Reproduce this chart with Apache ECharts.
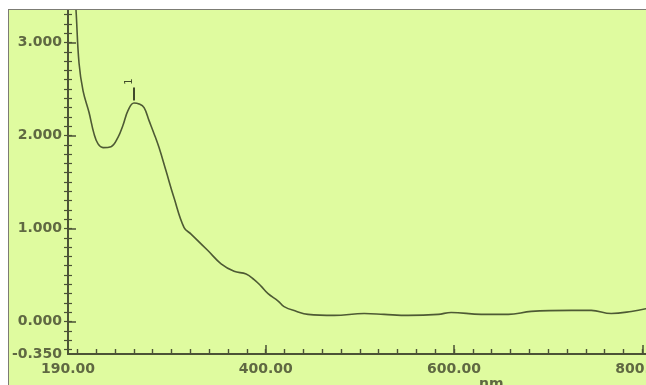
<!DOCTYPE html>
<html>
<head>
<meta charset="utf-8">
<script src="https://cdn.jsdelivr.net/npm/echarts@6/dist/echarts.min.js"></script>
<style>
  html, body { margin: 0; padding: 0; background: #ffffff; }
  #panel {
    position: absolute; left: 8px; top: 9px;
    width: 638px; height: 376px;
    background: #dffb9f;
    border-top: 1.5px solid #7c7c74;
    border-left: 1.5px solid #7c7c74;
  }
  #chart { width: 638px; height: 376px; }
</style>
</head>
<body>
<div id="panel"><div id="chart"></div></div>
<script>
// spectrum (nm, absorbance)
const wavelength = [196, 198.5, 201.7, 206, 212.3, 217.6, 221.9, 227.2, 235.7, 243.1, 248.4, 253.8, 260.1, 265.5, 270.8, 276.1, 281.4, 286.7, 294.1, 302.6, 313.3, 320.7, 338.8, 352.6, 366.4, 379.2, 387.7, 395.1, 402.5, 413.2, 419.5, 432.3, 445, 472.7, 504.6, 525.8, 551.3, 583.2, 597, 628.9, 657.6, 682, 724.5, 745.8, 767, 788.3, 805.3]
const absorbance = [3.7, 3.35, 2.78, 2.48, 2.25, 2.02, 1.91, 1.87, 1.88, 1.98, 2.11, 2.27, 2.35, 2.34, 2.3, 2.16, 2.02, 1.87, 1.62, 1.33, 1.01, 0.94, 0.76, 0.62, 0.54, 0.51, 0.45, 0.38, 0.3, 0.22, 0.16, 0.11, 0.076, 0.065, 0.086, 0.076, 0.065, 0.076, 0.097, 0.076, 0.076, 0.108, 0.119, 0.119, 0.086, 0.108, 0.14]

const peak = [260.1, 2.35]

const xLabels = [190, 400, 600, 800]
const xMajorTicks = [400, 600, 800]
const yLabels = [-0.35, 0, 1, 2, 3]
const yMajorTicks = [0, 1, 2, 3]

const xMinorTicks = []
for (let v = 200; v <= 800; v += 20) xMinorTicks.push(v)
const yMinorTicks = []
for (let v = -3; v <= 33; v++) yMinorTicks.push(v / 10)

const textColor = '#5f6842'
const axisColor = '#4b5236'
const labelFont = { color: textColor, fontFamily: 'DejaVu Sans', fontWeight: 'bold', fontSize: 14 }

const plotRect = { left: 59, right: 0, top: 0, bottom: 32, outerBoundsMode: 'none', containLabel: false }

const xBase = {
    type: 'value', min: 190, max: 805, position: 'bottom',
    axisLine: { show: true, onZero: false, lineStyle: { color: axisColor, width: 1.5 } },
    splitLine: { show: false }
}
const yBase = {
    type: 'value', min: -0.35, max: 3.35, position: 'left',
    axisLine: { show: true, onZero: false, lineStyle: { color: axisColor, width: 1.5 } },
    splitLine: { show: false }
}

// three stacked grids with the same rect, so the extra tick axes stay on the same side
const option = {
    animation: false,
    backgroundColor: 'transparent',
    grid: [plotRect, plotRect, plotRect],
    xAxis: [
        Object.assign({}, xBase, {
            gridIndex: 0,
            axisTick: { show: true, inside: true, length: 9, customValues: xMajorTicks, lineStyle: { color: axisColor, width: 1.5 } },
            axisLabel: Object.assign({}, labelFont, {
                margin: 8, customValues: xLabels,
                formatter: v => v.toFixed(2)
            })
        }),
        Object.assign({}, xBase, {
            gridIndex: 1,
            axisTick: { show: true, inside: true, length: 5, customValues: xMinorTicks, lineStyle: { color: axisColor, width: 1.4 } },
            axisLabel: { show: false }
        }),
        Object.assign({}, xBase, {
            gridIndex: 2,
            axisTick: { show: false },
            axisLabel: { show: false }
        })
    ],
    yAxis: [
        Object.assign({}, yBase, {
            gridIndex: 0,
            axisTick: { show: true, inside: true, length: 8, customValues: yMajorTicks, lineStyle: { color: axisColor, width: 1.5 } },
            axisLabel: Object.assign({}, labelFont, {
                margin: 6, customValues: yLabels,
                formatter: v => v.toFixed(3)
            })
        }),
        Object.assign({}, yBase, {
            gridIndex: 1,
            axisTick: { show: true, inside: true, length: 4, customValues: yMinorTicks, lineStyle: { color: axisColor, width: 1.2 } },
            axisLabel: { show: false }
        }),
        Object.assign({}, yBase, {
            gridIndex: 2,
            axisTick: { show: true, inside: false, length: 4, customValues: yMinorTicks, lineStyle: { color: axisColor, width: 1.2 } },
            axisLabel: { show: false }
        })
    ],
    graphic: [
        {
            type: 'text', left: 470, top: 367,
            style: { text: 'nm.', fill: textColor, font: 'bold 14px "DejaVu Sans"' }
        }
    ],
    series: [
        {
            type: 'line',
            xAxisIndex: 0, yAxisIndex: 0,
            data: wavelength.map((w, i) => [w, absorbance[i]]),
            smooth: 0.4,
            showSymbol: false,
            clip: true,
            lineStyle: { color: '#4e5a34', width: 1.6 },
            markPoint: {
                silent: true,
                symbol: 'rect',
                symbolSize: [2, 13],
                symbolOffset: [0, -9],
                itemStyle: { color: '#3f4a2a' },
                label: {
                    show: true, position: 'top', distance: 6,
                    formatter: '1', rotate: 90,
                    color: '#3f4a2a', fontSize: 10, fontFamily: 'DejaVu Sans'
                },
                data: [{ coord: peak }]
            }
        }
    ]
}

const myChart = echarts.init(document.getElementById('chart'))
myChart.setOption(option)
</script>
</body>
</html>
